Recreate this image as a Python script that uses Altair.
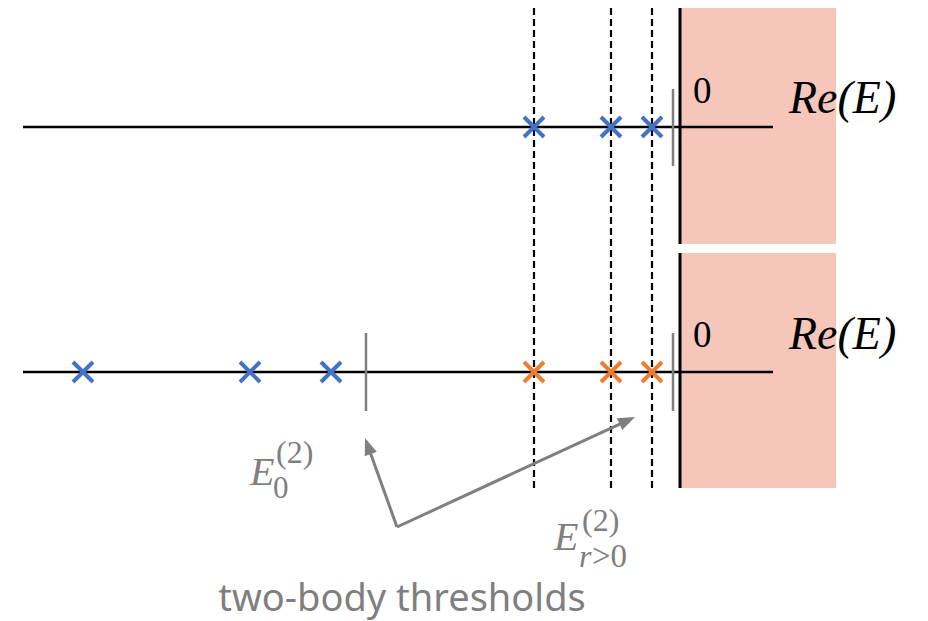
import math
import altair as alt
import pandas as pd

# Energies on a schematic real axis (threshold of the continuum at 0)
upper_poles = [-146, -69, -28]          # upper sheet: bound states
lower_bound_poles = [-597, -430, -349]  # lower sheet: below the lowest two-body threshold
lower_excited_poles = [-146, -69, -28]  # lower sheet: tied to excited two-body thresholds
excited_thresholds = [-146, -69, -28]   # dashed guides E_{r>0}^(2)
ground_threshold = -314                 # E_0^(2)
cut_tick = -7

# Layout of the two sheets (vertical placement)
rows = ["upper", "lower"]
axis_level = {"upper": 127, "lower": 372}
panel_top = {"upper": 8, "lower": 253}
panel_bottom = {"upper": 244, "lower": 488}
axis_start, axis_end = -657, 93
pink_end = 156

BLUE = "#4472C4"
ORANGE = "#ED7D31"
GRAY = "#7F7F7F"
PINK = "#F6C6BA"

XS = alt.Scale(domain=[-680, 248], nice=False, zero=False)
YS = alt.Scale(domain=[0, 621], reverse=True, nice=False, zero=False)


def X(f):
    return alt.X(f"{f}:Q", scale=XS, axis=None)


def Y(f):
    return alt.Y(f"{f}:Q", scale=YS, axis=None)


def text_layer(df, **kw):
    return alt.Chart(df).mark_text(align="left", baseline="alphabetic", **kw).encode(
        x=X("x"), y=Y("y"), text="t:N")


# continuum region (Re E > 0)
shade = pd.DataFrame({
    "x": [0 for r in rows], "x2": [pink_end for r in rows],
    "y": [panel_top[r] for r in rows], "y2": [panel_bottom[r] for r in rows],
})
shade_layer = alt.Chart(shade).mark_rect(color=PINK).encode(
    x=X("x"), x2="x2", y=Y("y"), y2="y2")

# dashed guides through excited thresholds
guides = pd.DataFrame({"x": excited_thresholds,
                       "y": [panel_top["upper"]] * 3,
                       "y2": [panel_bottom["lower"]] * 3})
guide_layer = alt.Chart(guides).mark_rule(
    color="black", strokeWidth=2.2, strokeDash=[7, 4]).encode(
    x=X("x"), y=Y("y"), y2="y2")

# imaginary axes at Re E = 0
imag = pd.DataFrame({"x": [0, 0], "y": [panel_top[r] for r in rows],
                     "y2": [panel_bottom[r] for r in rows]})
imag_layer = alt.Chart(imag).mark_rule(color="black", strokeWidth=3).encode(
    x=X("x"), y=Y("y"), y2="y2")

# real axes
real = pd.DataFrame({"x": [axis_start] * 2, "x2": [axis_end] * 2,
                     "y": [axis_level[r] for r in rows]})
real_layer = alt.Chart(real).mark_rule(color="black", strokeWidth=2.7).encode(
    x=X("x"), x2="x2", y=Y("y"))

# threshold ticks
ticks = pd.DataFrame({
    "x": [cut_tick, cut_tick, ground_threshold],
    "y": [axis_level["upper"] - 38, axis_level["lower"] - 39, axis_level["lower"] - 39],
    "y2": [axis_level["upper"] + 39, axis_level["lower"] + 39, axis_level["lower"] + 39],
})
tick_layer = alt.Chart(ticks).mark_rule(color=GRAY, strokeWidth=2.5).encode(
    x=X("x"), y=Y("y"), y2="y2")

# poles
poles = pd.DataFrame(
    [{"x": e, "y": axis_level["upper"], "kind": "bound"} for e in upper_poles]
    + [{"x": e, "y": axis_level["lower"], "kind": "bound"} for e in lower_bound_poles]
    + [{"x": e, "y": axis_level["lower"], "kind": "excited"} for e in lower_excited_poles]
)
pole_layer = alt.Chart(poles).mark_point(
    shape="M-1,-1L1,1M-1,1L1,-1", filled=False, size=400, strokeWidth=4,
    opacity=1).encode(
    x=X("x"), y=Y("y"),
    color=alt.Color("kind:N", scale=alt.Scale(domain=["bound", "excited"],
                                              range=[BLUE, ORANGE]), legend=None))

# axis annotations
zero_layer = text_layer(
    pd.DataFrame({"x": [13, 13], "y": [103, 347], "t": ["0", "0"]}),
    font="Liberation Serif", fontSize=37, color="black")

re_layer = text_layer(
    pd.DataFrame({"x": [109, 109], "y": [113, 349], "t": ["Re(E)", "Re(E)"]}),
    font="Liberation Serif", fontSize=46, fontStyle="italic", color="black")

# threshold labels E_0^(2), E_{r>0}^(2)
lbl_main_layer = text_layer(
    pd.DataFrame({"x": [-430, -126], "y": [485, 550], "t": ["E", "E"]}),
    font="Liberation Serif", fontSize=40, fontStyle="italic", color=GRAY)

lbl_sup_layer = text_layer(
    pd.DataFrame({"x": [-404, -98], "y": [463, 531], "t": ["(2)", "(2)"]}),
    font="Liberation Serif", fontSize=32, color=GRAY)

lbl_sub0_layer = text_layer(
    pd.DataFrame({"x": [-407], "y": [498], "t": ["0"]}),
    font="Liberation Serif", fontSize=31, color=GRAY)

lbl_subr_layer = text_layer(
    pd.DataFrame({"x": [-101], "y": [567], "t": ["r"]}),
    font="Liberation Serif", fontSize=32, fontStyle="italic", color=GRAY)

lbl_subgt_layer = text_layer(
    pd.DataFrame({"x": [-88], "y": [567], "t": [">0"]}),
    font="Liberation Serif", fontSize=33, color=GRAY)

caption_layer = alt.Chart(
    pd.DataFrame({"x": [-278], "y": [611], "t": ["two-body thresholds"]})
).mark_text(font="Noto Sans", fontSize=38, align="center", baseline="alphabetic",
            color=GRAY).encode(x=X("x"), y=Y("y"), text="t:N")

# arrows from the caption to the thresholds
arrow_base = (-283, 527)
arrow_tips = [(-315, 438), (-45, 417)]
head_len = 17
shafts, heads = [], []
for tx, ty in arrow_tips:
    dx, dy = tx - arrow_base[0], ty - arrow_base[1]
    L = math.hypot(dx, dy)
    ux, uy = dx / L, dy / L
    shafts.append({"x": arrow_base[0], "y": arrow_base[1],
                   "x2": tx - ux * head_len * 0.6, "y2": ty - uy * head_len * 0.6})
    heads.append({"x": tx - ux * head_len / 2, "y": ty - uy * head_len / 2,
                  "a": math.degrees(math.atan2(dx, -dy)) % 360})
shaft_layer = alt.Chart(pd.DataFrame(shafts)).mark_rule(
    color=GRAY, strokeWidth=3).encode(x=X("x"), y=Y("y"), x2="x2", y2="y2")
head_layer = alt.Chart(pd.DataFrame(heads)).mark_point(
    shape="M0,-1L0.75,1L-0.75,1Z", filled=True, size=head_len ** 2,
    color=GRAY, opacity=1).encode(
    x=X("x"), y=Y("y"), angle=alt.Angle("a:Q", scale=None))

chart = alt.layer(
    shade_layer, guide_layer, imag_layer, real_layer, tick_layer, pole_layer,
    zero_layer, re_layer, lbl_main_layer, lbl_sup_layer, lbl_sub0_layer,
    lbl_subr_layer, lbl_subgt_layer, caption_layer, shaft_layer, head_layer,
).properties(width=928, height=621, padding=0, autosize="none",
             background="white").configure_view(stroke=None)

chart.save("out.html", embed_options={"renderer": "svg", "actions": False})
